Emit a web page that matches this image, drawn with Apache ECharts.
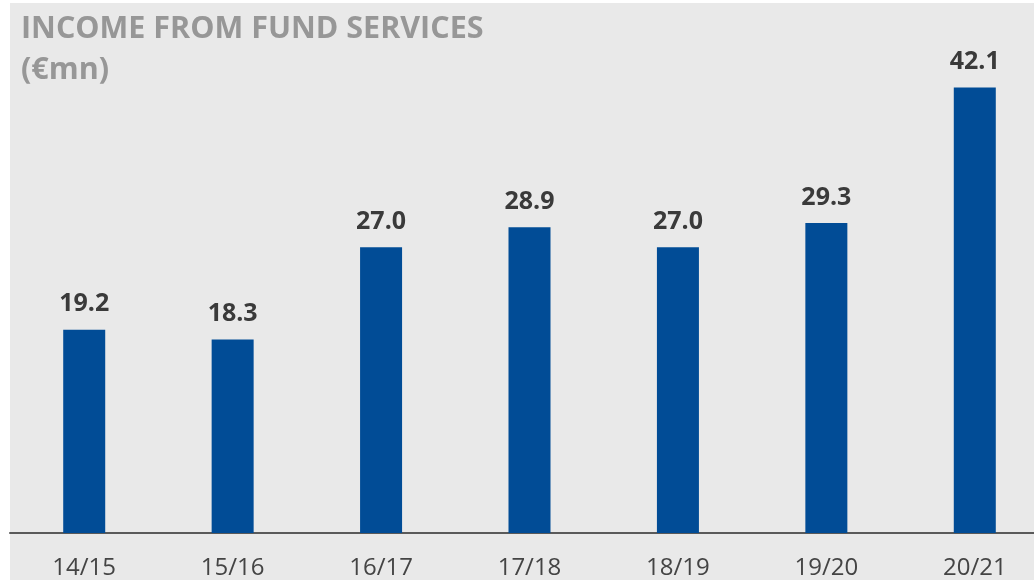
<!DOCTYPE html>
<html>
<head>
<meta charset="utf-8">
<script src="https://cdn.jsdelivr.net/npm/echarts@6/dist/echarts.min.js"></script>
<style>
  html, body { margin: 0; padding: 0; background: #ffffff; overflow: hidden; width: 1034px; height: 580px; }
  #chart { width: 1049px; height: 580px; }
</style>
</head>
<body>
<div id="chart"></div>
<script>
const titleLines = ['INCOME FROM FUND SERVICES', '(€mn)'];
const categories = ['14/15', '15/16', '16/17', '17/18', '18/19', '19/20', '20/21'];
const incomeValues = [19.2, 18.3, 27.0, 28.9, 27.0, 29.3, 42.1];

const chart = echarts.init(document.getElementById('chart'), null, { renderer: 'canvas' });
chart.setOption({
  backgroundColor: '#ffffff',
  animation: false,
  graphic: [{
    type: 'rect',
    z: -10,
    silent: true,
    shape: { x: 10, y: 3, width: 1050, height: 580 },
    style: { fill: '#e9e9e9' }
  }],
  title: {
    text: titleLines.join('\n'),
    left: 16,
    top: 4,
    textStyle: {
      fontFamily: 'Open Sans',
      fontWeight: 'bold',
      fontSize: 30.5,
      lineHeight: 41,
      color: '#979797'
    }
  },
  grid: { left: 10, top: 4, right: 0, bottom: 42, containLabel: false },
  xAxis: {
    type: 'category',
    data: categories,
    axisLine: { show: true, lineStyle: { color: '#5a5a5a', width: 2 } },
    axisTick: { show: false },
    axisLabel: {
      fontFamily: 'Open Sans',
      fontSize: 24,
      color: '#444444',
      margin: 23
    }
  },
  yAxis: {
    type: 'value',
    min: 0,
    max: 50,
    show: false,
    splitLine: { show: false }
  },
  series: [{
    type: 'bar',
    data: incomeValues,
    barWidth: 42,
    itemStyle: { color: '#014c96' },
    label: {
      show: true,
      position: 'top',
      distance: 13,
      formatter: p => p.value.toFixed(1),
      fontFamily: 'Open Sans',
      fontWeight: 'bold',
      fontSize: 25,
      color: '#3a3a3a'
    }
  }]
});
</script>
</body>
</html>
